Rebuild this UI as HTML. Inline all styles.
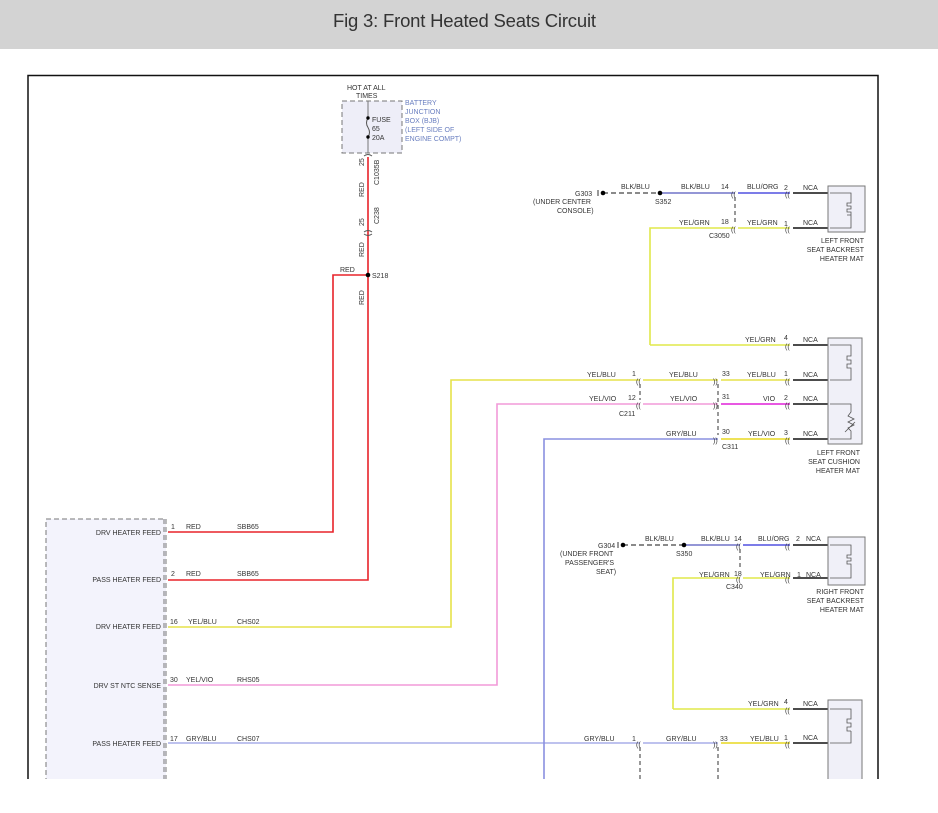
<!DOCTYPE html>
<html><head><meta charset="utf-8"><style>
body{margin:0;background:#fff;width:938px;height:813px;overflow:hidden;font-family:"Liberation Sans",sans-serif}
.hdr{position:absolute;left:0;top:0;width:938px;height:49px;background:#d3d3d3}
.hdr div{position:absolute;left:333px;top:10px;font-size:18.5px;color:#333;letter-spacing:-0.2px}
svg{position:absolute;left:0;top:0}
text{font-family:"Liberation Sans",sans-serif;font-size:7px;fill:#333}
.b{fill:#6a7fc0}
.c{font-size:10px;fill:#333}
</style></head><body>
<div class="hdr"><div>Fig 3: Front Heated Seats Circuit</div></div>
<svg width="938" height="779" viewBox="0 0 938 779">
<path d="M28 813V75.5H878V813" fill="none" stroke="#111" stroke-width="1.5"/>
<!-- fuse box -->
<rect x="342" y="101" width="60" height="52" fill="#eeeef8" stroke="#777" stroke-dasharray="5,3"/>
<text x="347" y="90">HOT AT ALL</text><text x="356" y="98">TIMES</text>
<path d="M368 101V118M368 137V153" stroke="#777"/>
<path d="M368 118q-3 5 0 9.5q3 5 0 9.5" fill="none" stroke="#555"/>
<circle cx="368" cy="118" r="1.7"/><circle cx="368" cy="137" r="1.7"/>
<text x="372" y="122">FUSE</text><text x="372" y="131">65</text><text x="372" y="140">20A</text>
<text class="b" x="405" y="105">BATTERY</text><text class="b" x="405" y="114">JUNCTION</text><text class="b" x="405" y="123">BOX (BJB)</text><text class="b" x="405" y="132">(LEFT SIDE OF</text><text class="b" x="405" y="141">ENGINE COMPT)</text>
<!-- red wires -->
<path d="M368 157V580H168M368 275H333V532H168" fill="none" stroke="#e8232a" stroke-width="1.6"/>
<circle cx="368" cy="275" r="2.3"/>
<text x="372" y="278">S218</text><text x="340" y="272">RED</text>
<text transform="translate(364,166)rotate(-90)">25</text>
<text transform="translate(379,185)rotate(-90)">C1035B</text>
<text transform="translate(364,197)rotate(-90)">RED</text>
<text transform="translate(364,226)rotate(-90)">25</text>
<text transform="translate(379,224)rotate(-90)">C238</text>
<text transform="translate(364,257)rotate(-90)">RED</text>
<text transform="translate(364,305)rotate(-90)">RED</text>
<path d="M364 156q4-3 8 0M364 232q4-3 8 0M364 234q4 3 8 0" fill="none" stroke="#555"/>
<!-- module -->
<rect x="46" y="519" width="120" height="300" fill="#f3f3fc" stroke="#777" stroke-dasharray="5,3"/>
<path d="M164 519V813" stroke="#777" stroke-dasharray="5,3"/>
<g text-anchor="end"><text x="161" y="535">DRV HEATER FEED</text><text x="161" y="582">PASS HEATER FEED</text><text x="161" y="629">DRV HEATER FEED</text><text x="161" y="688">DRV ST NTC SENSE</text><text x="161" y="746">PASS HEATER FEED</text></g>
<text x="171" y="529">1</text><text x="186" y="529">RED</text><text x="237" y="529">SBB65</text>
<text x="171" y="576">2</text><text x="186" y="576">RED</text><text x="237" y="576">SBB65</text>
<text x="170" y="624">16</text><text x="188" y="624">YEL/BLU</text><text x="237" y="624">CHS02</text>
<text x="170" y="682">30</text><text x="186" y="682">YEL/VIO</text><text x="237" y="682">RHS05</text>
<text x="170" y="741">17</text><text x="186" y="741">GRY/BLU</text><text x="237" y="741">CHS07</text>
<!-- signal wires -->
<path d="M168 627H451V380H640M643 380H718M721 380H790" fill="none" stroke="#e6e24a" stroke-width="1.6"/>
<path d="M168 685H497V404H640M643 404H718" fill="none" stroke="#f29ad8" stroke-width="1.6"/>
<path d="M168 743H640M643 743H718" fill="none" stroke="#a9aee8" stroke-width="1.6"/>
<path d="M544 813V439H718" fill="none" stroke="#8a90e0" stroke-width="1.6"/>
<path d="M721 404H790" stroke="#e020d8" stroke-width="1.6"/>
<path d="M721 439H790M721 743H790" stroke="#e8d820" stroke-width="1.6"/>
<!-- top right -->
<path d="M603 193H660" stroke="#444" stroke-dasharray="5,3" stroke-width="1.3"/>
<path d="M660 193H735" stroke="#7074c8" stroke-width="1.6"/>
<path d="M738 193H790" stroke="#5050e0" stroke-width="1.6"/>
<path d="M650 345V228H735M738 228H790M650 345H790" fill="none" stroke="#e0e84a" stroke-width="1.6"/>
<path d="M735 197V222M640 384V400M718 384V435M740 549V570M640 747V813M718 747V813" stroke="#333" stroke-dasharray="4,3"/>
<circle cx="603" cy="193" r="2.3"/><circle cx="660" cy="193" r="2.3"/>
<path d="M598 190V196" stroke="#333"/>
<text x="575" y="196">G303</text><text x="533" y="204">(UNDER CENTER</text><text x="557" y="213">CONSOLE)</text>
<text x="621" y="189">BLK/BLU</text><text x="681" y="189">BLK/BLU</text><text x="655" y="204">S352</text>
<text x="721" y="189">14</text><text x="747" y="189">BLU/ORG</text><text x="784" y="190">2</text>
<text x="679" y="225">YEL/GRN</text><text x="721" y="224">18</text><text x="747" y="225">YEL/GRN</text><text x="784" y="226">1</text>
<text x="709" y="238">C3050</text>
<!-- cushion labels -->
<text x="745" y="342">YEL/GRN</text><text x="784" y="340">4</text>
<text x="587" y="377">YEL/BLU</text><text x="632" y="376">1</text><text x="669" y="377">YEL/BLU</text><text x="722" y="376">33</text><text x="747" y="377">YEL/BLU</text><text x="784" y="376">1</text>
<text x="589" y="401">YEL/VIO</text><text x="628" y="400">12</text><text x="670" y="401">YEL/VIO</text><text x="722" y="399">31</text><text x="763" y="401">VIO</text><text x="784" y="400">2</text>
<text x="619" y="416">C211</text>
<text x="666" y="436">GRY/BLU</text><text x="722" y="434">30</text><text x="748" y="436">YEL/VIO</text><text x="784" y="435">3</text>
<text x="722" y="449">C311</text>
<!-- right front -->
<path d="M623 545H684" stroke="#444" stroke-dasharray="5,3" stroke-width="1.3"/>
<path d="M684 545H740" stroke="#7074c8" stroke-width="1.6"/>
<path d="M743 545H790" stroke="#5050e0" stroke-width="1.6"/>
<path d="M673 709V578H740M743 578H790M673 709H790" fill="none" stroke="#e0e84a" stroke-width="1.6"/>
<circle cx="623" cy="545" r="2.3"/><circle cx="684" cy="545" r="2.3"/>
<path d="M618 542V548" stroke="#333"/>
<text x="598" y="548">G304</text><text x="560" y="556">(UNDER FRONT</text><text x="565" y="565">PASSENGER'S</text><text x="596" y="574">SEAT)</text>
<text x="645" y="541">BLK/BLU</text><text x="701" y="541">BLK/BLU</text><text x="676" y="556">S350</text>
<text x="734" y="541">14</text><text x="758" y="541">BLU/ORG</text><text x="796" y="541">2</text>
<text x="699" y="577">YEL/GRN</text><text x="734" y="576">18</text><text x="760" y="577">YEL/GRN</text><text x="797" y="577">1</text>
<text x="726" y="589">C340</text>
<text x="748" y="706">YEL/GRN</text><text x="784" y="704">4</text>
<text x="584" y="741">GRY/BLU</text><text x="632" y="741">1</text><text x="666" y="741">GRY/BLU</text><text x="720" y="741">33</text><text x="750" y="741">YEL/BLU</text><text x="784" y="740">1</text>
<!-- connector glyphs -->
<g class="c">
<text x="731" y="197">((</text><text x="731" y="232">((</text><text x="785" y="197">((</text><text x="785" y="232">((</text>
<text x="785" y="349">((</text><text x="785" y="384">((</text><text x="785" y="408">((</text><text x="785" y="443">((</text>
<text x="636" y="384">((</text><text x="636" y="408">((</text>
<text x="713" y="384">))</text><text x="713" y="408">))</text><text x="713" y="443">))</text>
<text x="736" y="549">((</text><text x="736" y="582">((</text><text x="785" y="549">((</text><text x="785" y="582">((</text>
<text x="785" y="713">((</text><text x="785" y="747">((</text>
<text x="636" y="747">((</text><text x="713" y="747">))</text>
</g>
<!-- NCA wires and components -->
<path d="M793 193H830M793 228H830M793 345H830M793 380H830M793 404H830M793 439H830M793 545H830M793 578H830M793 709H830M793 743H830" stroke="#111" stroke-width="1.6"/>
<g font-size="7"><text x="803" y="190">NCA</text><text x="803" y="225">NCA</text><text x="803" y="342">NCA</text><text x="803" y="377">NCA</text><text x="803" y="401">NCA</text><text x="803" y="436">NCA</text><text x="806" y="541">NCA</text><text x="806" y="577">NCA</text><text x="803" y="706">NCA</text><text x="803" y="740">NCA</text></g>
<g fill="#f0f0f8" stroke="#777"><rect x="828" y="186" width="37" height="46"/><rect x="828" y="338" width="34" height="106"/><rect x="828" y="537" width="37" height="48"/><rect x="828" y="700" width="34" height="120"/></g>
<g fill="none" stroke="#555" stroke-width="0.8">
<path d="M830 193H851V203h-4v3h4v3h-4v3h4v3h-4v0M851 215V228H830"/>
<path d="M830 345H851V356h-4v4h4v4h-4v4h4v4M851 372V380H830"/>
<path d="M830 404H851V412l-3 4 6 3-6 3 6 3-6 3 3 3V439H830M845 432l10-10"/>
<path d="M830 545H851V555h-4v3h4v3h-4v3h4v3M851 567V578H830"/>
<path d="M830 709H851V719h-4v4h4v4h-4v4h4M851 731V743H830"/>
</g>
<g class="b" text-anchor="end"><text x="864" y="243">LEFT FRONT</text><text x="864" y="252">SEAT BACKREST</text><text x="864" y="261">HEATER MAT</text>
<text x="860" y="455">LEFT FRONT</text><text x="860" y="464">SEAT CUSHION</text><text x="860" y="473">HEATER MAT</text>
<text x="864" y="594">RIGHT FRONT</text><text x="864" y="603">SEAT BACKREST</text><text x="864" y="612">HEATER MAT</text></g>
</svg>
</body></html>
